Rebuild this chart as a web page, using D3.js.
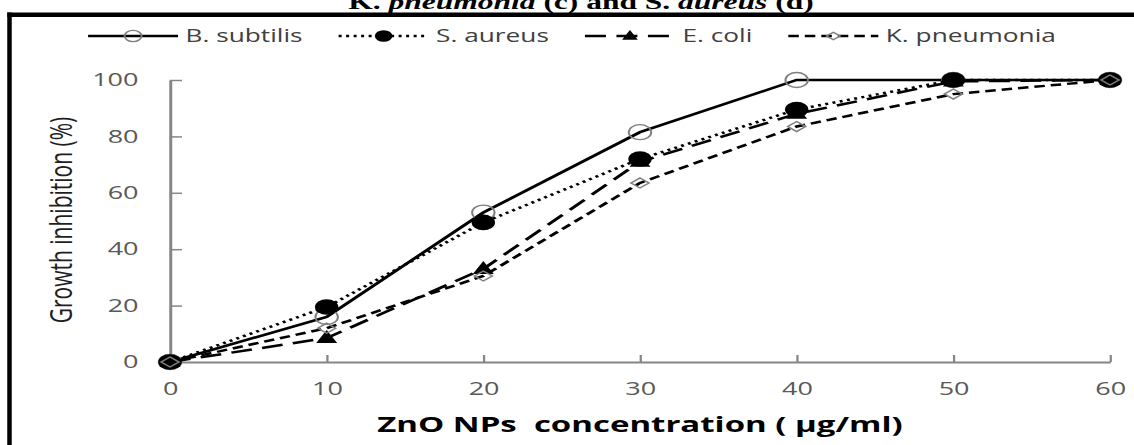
<!DOCTYPE html>
<html>
<head>
<meta charset="utf-8">
<script src="https://cdn.jsdelivr.net/npm/d3@7"></script>
<style>
  body { margin: 0; background: #fff; }
  text { font-family: "Open Sans", "Liberation Sans", sans-serif; }
</style>
</head>
<body>
<svg id="chart" width="1134" height="445"></svg>
<script>
// data
const concentrations = [0, 10, 20, 30, 40, 50, 60];
const bSubtilis  = [0, 16, 53, 81.5, 100, 100, 100];
const sAureus    = [0, 19.5, 49.5, 72, 89.5, 100, 100];
const eColi      = [0, 8.5, 33, 71, 88, 99.5, 100];
const kPneumonia = [0, 12, 30.5, 63.5, 83.5, 95, 100];
const seriesNames = ["B. subtilis", "S. aureus", "E. coli", "K. pneumonia"];
const xTicks = [0, 10, 20, 30, 40, 50, 60];
const yTicks = [0, 20, 40, 60, 80, 100];

const W = 1134, H = 445;
// the source picture is stretched sideways, so the chart is drawn in a narrower
// box and widened with a transform
const stretch = 1.5;

const svg = d3.select("#chart");
svg.append("rect").attr("width", W).attr("height", H).attr("fill", "#fff");

const g = svg.append("g").attr("transform", `scale(${stretch},1)`);

const x = d3.scaleLinear().domain([0, 60]).range([170 / stretch, 1110 / stretch]);
const y = d3.scaleLinear().domain([0, 100]).range([362, 80]);

// title (cut off at the top in the reference)
const title = g.append("text")
    .attr("x", 581 / stretch)
    .attr("y", 8.5)
    .attr("text-anchor", "middle")
    .style("font-family", "'Liberation Serif', 'Times New Roman', serif")
    .style("font-weight", "bold")
    .style("font-size", "21px")
    .attr("fill", "#000");
title.append("tspan").text("K. ");
title.append("tspan").style("font-style", "italic").text("pneumonia");
title.append("tspan").text(" (c) and S. ");
title.append("tspan").style("font-style", "italic").text("aureus");
title.append("tspan").text(" (d)");

// axes
const yAxis = d3.axisLeft(y)
    .tickValues(yTicks)
    .tickSize(-8)
    .tickSizeOuter(0)
    .tickPadding(21);
const xAxis = d3.axisBottom(x)
    .tickValues(xTicks)
    .tickSize(-7)
    .tickSizeOuter(0)
    .tickPadding(20);

const gy = g.append("g")
    .attr("transform", `translate(${x(0)},0)`)
    .call(yAxis);
const gx = g.append("g")
    .attr("transform", `translate(0,${y(0)})`)
    .call(xAxis);

[gx, gy].forEach(ax => {
    ax.select(".domain").attr("stroke", "#868686").attr("stroke-width", 2);
    ax.selectAll(".tick line").attr("stroke", "#868686").attr("stroke-width", 1.5);
    ax.selectAll(".tick text")
        .attr("fill", "#595959")
        .style("font-family", "'Open Sans', sans-serif")
        .style("font-size", "18px");
});

// axis titles
g.append("text")
    .attr("transform", `translate(${48},${220}) rotate(-90)`)
    .attr("text-anchor", "middle")
    .attr("fill", "#1f1f1f")
    .style("font-size", "21px")
    .text("Growth inhibition (%)");

g.append("text")
    .attr("x", x(30))
    .attr("y", 432)
    .attr("text-anchor", "middle")
    .attr("fill", "#000")
    .style("font-size", "22px")
    .style("font-weight", "bold")
    .style("white-space", "pre")
    .text("ZnO NPs  concentration ( \u00b5g/ml)");

// marker shapes
function drawMarker(sel, type, k) {
    k = k || 1;
    if (type === "openCircle") {
        sel.append("circle").attr("r", 7.5 * k)
            .attr("fill", "none").attr("stroke", "#7f7f7f").attr("stroke-width", 1.3);
    } else if (type === "filledCircle") {
        sel.append("circle").attr("r", 7.8 * k).attr("fill", "#000");
    } else if (type === "triangle") {
        sel.append("path")
            .attr("d", `M0,${-8 * k} L${7 * k},${5 * k} L${-7 * k},${5 * k} Z`)
            .attr("fill", "#000");
    } else if (type === "diamond") {
        sel.append("path")
            .attr("d", `M0,${-5 * k} L${6 * k},0 L0,${5 * k} L${-6 * k},0 Z`)
            .attr("fill", "none").attr("stroke", "#7f7f7f").attr("stroke-width", 1.3);
    }
}

const series = [
    { name: seriesNames[0], values: bSubtilis,  dash: null,   marker: "openCircle" },
    { name: seriesNames[1], values: sAureus,    dash: "2,3",  marker: "filledCircle" },
    { name: seriesNames[2], values: eColi,      dash: "14,7", marker: "triangle" },
    { name: seriesNames[3], values: kPneumonia, dash: "7,4",  marker: "diamond" }
];

const line = d3.line()
    .x((d, i) => x(concentrations[i]))
    .y(d => y(d));

series.forEach(s => {
    const sg = g.append("g").attr("class", "series");
    sg.append("path")
        .datum(s.values)
        .attr("d", line)
        .attr("fill", "none")
        .attr("stroke", "#000")
        .attr("stroke-width", 2.5)
        .attr("stroke-dasharray", s.dash);
    sg.selectAll(".pt")
        .data(s.values)
        .enter()
        .append("g")
        .attr("class", "pt")
        .attr("transform", (d, i) => `translate(${x(concentrations[i])},${y(d)})`)
        .each(function() { drawMarker(d3.select(this), s.marker); });
});

// legend, centred over the chart area
const legend = g.append("g");
const lineLen = 60, textGap = 5, itemGap = 24, legendY = 36;
let items = series.map(s => {
    const it = legend.append("g");
    it.append("line")
        .attr("x1", 0).attr("x2", lineLen)
        .attr("y1", 0).attr("y2", 0)
        .attr("stroke", "#000").attr("stroke-width", 2.5)
        .attr("stroke-dasharray", s.dash);
    const mk = it.append("g").attr("transform", `translate(${lineLen / 2},0)`);
    drawMarker(mk, s.marker, 0.75);
    const t = it.append("text")
        .attr("x", lineLen + textGap)
        .attr("dy", "0.35em")
        .attr("fill", "#404040")
        .style("font-size", "17.5px")
        .text(s.name);
    return { it, w: lineLen + textGap + t.node().getComputedTextLength() };
});
const totalW = d3.sum(items, d => d.w) + itemGap * (items.length - 1);
let cx = 572 / stretch - totalW / 2;
items.forEach(d => {
    d.it.attr("transform", `translate(${cx},${legendY})`);
    cx += d.w + itemGap;
});

// frame: thick rule on top and left
svg.append("line")
    .attr("x1", 7.3).attr("x2", W).attr("y1", 14.75).attr("y2", 14.75)
    .attr("stroke", "#000").attr("stroke-width", 4.5);
svg.append("line")
    .attr("x1", 9.5).attr("x2", 9.5).attr("y1", 12.5).attr("y2", H)
    .attr("stroke", "#000").attr("stroke-width", 4.5);
</script>
</body>
</html>
